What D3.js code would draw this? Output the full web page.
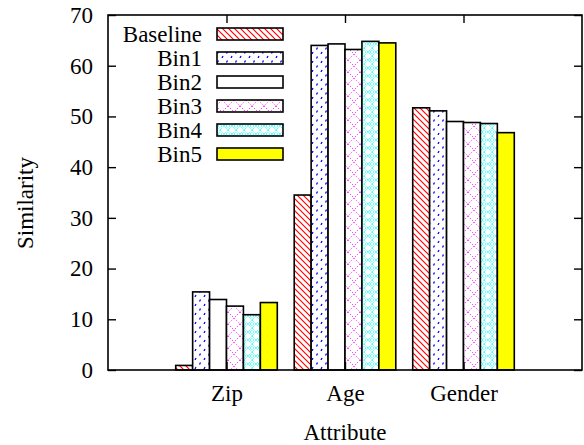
<!DOCTYPE html>
<html lang="en">
  <head>
    <meta charset="UTF-8" />
    <title>Similarity by attribute</title>
    <script src="https://d3js.org/d3.v7.min.js"></script>
    <style>
      body { margin: 0; background: #fff; }
      text { font-family: "Liberation Serif", "Times New Roman", serif; font-size: 23px; fill: #000; }
    </style>
  </head>
  <body>
    <svg width="584" height="445"></svg>
    <script>
      // data
      const attributes = ["Zip", "Age", "Gender"];
      const seriesNames = ["Baseline", "Bin1", "Bin2", "Bin3", "Bin4", "Bin5"];
      const baseline = [0.9, 34.5, 51.7];
      const bin1 = [15.4, 64.0, 51.1];
      const bin2 = [13.9, 64.3, 49.0];
      const bin3 = [12.6, 63.2, 48.8];
      const bin4 = [10.9, 64.8, 48.6];
      const bin5 = [13.3, 64.5, 46.8];
      const yTicks = [0, 10, 20, 30, 40, 50, 60, 70];

      const series = [baseline, bin1, bin2, bin3, bin4, bin5];

      const svg = d3.select("svg");
      const plotLeft = 108, plotRight = 582, plotTop = 15, plotBottom = 370;

      const x = d3.scaleLinear().domain([-1, 3]).range([plotLeft, plotRight]);
      const y = d3.scaleLinear().domain([0, 70]).range([plotBottom, plotTop]);
      const slot = 1 / 7; // 6 bars + gap of one bar

      // fill patterns
      const defs = svg.append("defs");
      let p = defs.append("pattern").attr("id", "p0").attr("patternUnits", "userSpaceOnUse")
        .attr("width", 6).attr("height", 6);
      p.append("path").attr("d", "M-1,-1 L7,7 M-4,2 L2,8 M2,-4 L8,2")
        .attr("stroke", "red").attr("stroke-width", 1.2);

      p = defs.append("pattern").attr("id", "p1").attr("patternUnits", "userSpaceOnUse")
        .attr("width", 9).attr("height", 9);
      p.append("path").attr("d", "M1.5,4.5 L2.5,2.5 M6,9 L7,7")
        .attr("stroke", "blue").attr("stroke-width", 1.3);

      p = defs.append("pattern").attr("id", "p3").attr("patternUnits", "userSpaceOnUse")
        .attr("width", 12).attr("height", 12);
      p.append("path").attr("d", "M0,0 L12,12 M12,0 L0,12")
        .attr("stroke", "magenta").attr("stroke-width", 1).attr("stroke-dasharray", "1,2");

      p = defs.append("pattern").attr("id", "p4").attr("patternUnits", "userSpaceOnUse")
        .attr("width", 8).attr("height", 8);
      p.append("path").attr("d", "M0,4 L4,0 L8,4 L4,8 Z M2,4 L4,2 L6,4 L4,6 Z")
        .attr("stroke", "cyan").attr("stroke-width", 1).attr("fill", "none")
        .attr("stroke-dasharray", "1,1");

      const fills = ["url(#p0)", "url(#p1)", "#fff", "url(#p3)", "url(#p4)", "#ffff00"];

      // bars
      series.forEach(function (vals, s) {
        svg.append("g").selectAll("rect")
          .data(vals)
          .enter()
          .append("rect")
          .attr("x", function (d, i) { return x(i - 3 * slot + s * slot); })
          .attr("y", function (d) { return y(d); })
          .attr("width", x(slot) - x(0))
          .attr("height", function (d) { return y(0) - y(d); })
          .attr("fill", "#fff");
        svg.append("g").selectAll("rect")
          .data(vals)
          .enter()
          .append("rect")
          .attr("x", function (d, i) { return x(i - 3 * slot + s * slot); })
          .attr("y", function (d) { return y(d); })
          .attr("width", x(slot) - x(0))
          .attr("height", function (d) { return y(0) - y(d); })
          .attr("fill", fills[s])
          .attr("stroke", "#000")
          .attr("stroke-width", 1.6);
      });

      // frame with inward ticks
      svg.append("rect").attr("x", plotLeft).attr("y", plotTop)
        .attr("width", plotRight - plotLeft).attr("height", plotBottom - plotTop)
        .attr("fill", "none").attr("stroke", "#000").attr("stroke-width", 1.6);

      svg.append("g").attr("transform", "translate(" + plotLeft + ",0)")
        .call(d3.axisLeft(y).tickValues(yTicks).tickSize(-8).tickPadding(15))
        .call(function (g) { g.select(".domain").remove(); });
      svg.append("g").attr("transform", "translate(" + plotRight + ",0)")
        .call(d3.axisRight(y).tickValues(yTicks).tickSize(-8).tickFormat(""))
        .call(function (g) { g.select(".domain").remove(); });
      svg.append("g").attr("transform", "translate(0," + plotBottom + ")")
        .call(d3.axisBottom(x).tickValues([0, 1, 2]).tickSize(-8).tickPadding(15)
          .tickFormat(function (d) { return attributes[d]; }))
        .call(function (g) { g.select(".domain").remove(); });
      svg.append("g").attr("transform", "translate(0," + plotTop + ")")
        .call(d3.axisTop(x).tickValues([0, 1, 2]).tickSize(-8).tickFormat(""))
        .call(function (g) { g.select(".domain").remove(); });

      svg.selectAll(".tick line").attr("stroke", "#000").attr("stroke-width", 1.4);
      svg.selectAll(".tick text")
        .style("font-family", "'Liberation Serif', serif").style("font-size", "23px");

      // axis titles
      svg.append("text").attr("x", x(1)).attr("y", 440)
        .attr("text-anchor", "middle").text("Attribute");
      svg.append("text").attr("transform", "translate(33,203) rotate(-90)")
        .attr("text-anchor", "middle").text("Similarity");

      // legend
      const legend = svg.append("g").selectAll("g")
        .data(seriesNames)
        .enter()
        .append("g")
        .attr("transform", function (d, i) { return "translate(0," + (34 + i * 24) + ")"; });
      legend.append("text").attr("x", 202).attr("y", 8)
        .attr("text-anchor", "end").text(function (d) { return d; });
      legend.append("rect").attr("x", 217).attr("y", -6)
        .attr("width", 66).attr("height", 12).attr("fill", "#fff");
      legend.append("rect").attr("x", 217).attr("y", -6)
        .attr("width", 66).attr("height", 12)
        .attr("fill", function (d, i) { return fills[i]; })
        .attr("stroke", "#000").attr("stroke-width", 1.6);
    </script>
  </body>
</html>
